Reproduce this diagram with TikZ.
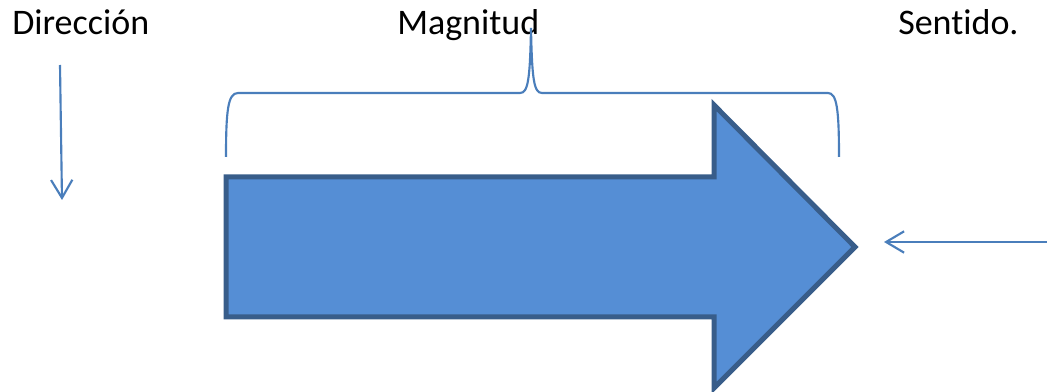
\documentclass[tikz,border=0pt]{standalone}
\usepackage{fontspec}
\setmainfont{Carlito}[Ligatures={NoCommon}]
\usepackage{tikz}
\usetikzlibrary{arrows.meta, positioning}
\definecolor{vecline}{RGB}{74,126,187}
\definecolor{vecfill}{RGB}{85,142,213}
\definecolor{vecedge}{RGB}{56,93,138}

\begin{document}
\begin{tikzpicture}[
    x=0.75pt, y=-0.75pt,
    lbl/.style={anchor=base west, inner sep=0pt, font=\fontsize{27}{32}\selectfont},
    thinline/.style={draw=vecline, line width=1.6pt},
    pointer/.style={thinline, -{Straight Barb[length=13.5pt, width=16pt]}},
    bigarrow/.style={draw=vecedge, fill=vecfill, line width=3.75pt, miter limit=10}
]
\useasboundingbox (0,0) rectangle (1047,392);

% Labels
\node[lbl] (dir) at (12,35) {Dirección};
\node[lbl] (mag) at (397,35) {Magnitud};
\node[lbl] (sen) at (898,35) {Sentido.};

% Pointer ends
\coordinate (dirtop) at (60,65);
\coordinate (dirbot) at (62,200);
\coordinate (senright) at (1047,242);
\coordinate (senleft) at (884,242);

% Brace over the vector
\draw[thinline] (226,157) .. controls (226,110) and (228,93) .. (238,93) -- (520,93)
    .. controls (528,93) and (530,80) .. (531,28)
    .. controls (532,80) and (534,93) .. (542,93) -- (828,93)
    .. controls (837,93) and (839,110) .. (839,157);

% Vector
\draw[bigarrow] (226,177) -- (714,177) -- (714,105) -- (855,247) -- (714,388)
    -- (714,317) -- (226,317) -- cycle;

% Arrows
\draw[pointer] (dirtop) -- (dirbot);
\draw[pointer] (senright) -- (senleft);

\end{tikzpicture}
\end{document}
